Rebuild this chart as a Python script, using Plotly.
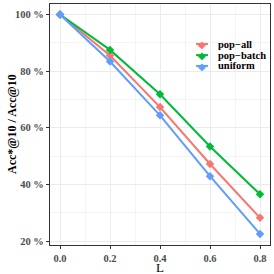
import plotly.graph_objects as go

L = [0.0, 0.2, 0.4, 0.6, 0.8]
pop_all = [100, 85.5, 67.3, 47.2, 28.2]
pop_batch = [100, 87.5, 71.8, 53.4, 36.5]
uniform = [100, 83.4, 64.4, 42.9, 22.5]
series_names = ["pop\u2212all", "pop\u2212batch", "uniform"]
colors = ["#F8766D", "#00BA38", "#619CFF"]
x_ticks = [0.0, 0.2, 0.4, 0.6, 0.8]
y_ticks = [20, 40, 60, 80, 100]

serif = "Liberation Serif"

fig = go.Figure()
for name, vals, c in zip(series_names, [pop_all, pop_batch, uniform], colors):
    fig.add_trace(go.Scatter(
        x=L, y=vals, name=name, mode="lines+markers",
        line=dict(color=c, width=2),
        marker=dict(symbol="diamond", size=6.5, color=c),
        showlegend=False,
    ))

# manual legend (compact, ggplot-like)
leg_y = [0.834, 0.788, 0.743]
for name, c, yy in zip(series_names, colors, leg_y):
    fig.add_shape(type="line", xref="paper", yref="paper",
                  x0=0.664, x1=0.718, y0=yy, y1=yy,
                  line=dict(color=c, width=2))
    fig.add_annotation(xref="paper", yref="paper", x=0.691, y=yy,
                       text="\u25C6", showarrow=False,
                       font=dict(size=10, color=c), xanchor="center", yanchor="middle")
    fig.add_annotation(xref="paper", yref="paper", x=0.755, y=yy,
                       text=name, showarrow=False,
                       font=dict(family=serif, size=10.5, color="black", weight="bold"),
                       xanchor="left", yanchor="middle")

# axis titles
fig.add_annotation(xref="paper", yref="paper", x=0.5, y=-0.094,
                   text="L", showarrow=False,
                   font=dict(family=serif, size=13, color="black"),
                   xanchor="center", yanchor="middle")
fig.add_annotation(xref="paper", yref="paper", x=-0.175, y=0.5,
                   text="Acc*@10 / Acc@10", showarrow=False, textangle=-90,
                   font=dict(family=serif, size=12, color="black", weight="bold"),
                   xanchor="center", yanchor="middle")

axis_common = dict(
    showgrid=True, gridcolor="#EBEBEB", gridwidth=1,
    showline=True, linecolor="#333333", linewidth=1.2, mirror=True,
    ticks="outside", ticklen=3, tickcolor="#333333",
    tickfont=dict(family=serif, size=10.5, color="#4D4D4D", weight="bold"),
    zeroline=False,
)

fig.update_layout(
    width=274, height=274,
    margin=dict(l=50, r=4, t=4, b=29),
    paper_bgcolor="white", plot_bgcolor="white",
    showlegend=False,
    xaxis=dict(
        range=[-0.04, 0.84], tickvals=x_ticks,
        ticktext=[f"{v:.1f}" for v in x_ticks],
        minor=dict(showgrid=True, gridcolor="#F4F4F4", tickvals=[0.1, 0.3, 0.5, 0.7]),
        ticklabelstandoff=0,
        **axis_common,
    ),
    yaxis=dict(
        range=[18.6, 103.7], tickvals=y_ticks,
        ticktext=[f"{v} %" for v in y_ticks],
        minor=dict(showgrid=True, gridcolor="#F4F4F4", tickvals=[30, 50, 70, 90]),
        **axis_common,
    ),
)

fig.write_html(
    "out.html",
    config={"displayModeBar": False},
    post_script="document.body.style.margin='0';document.body.style.overflow='hidden';",
)
